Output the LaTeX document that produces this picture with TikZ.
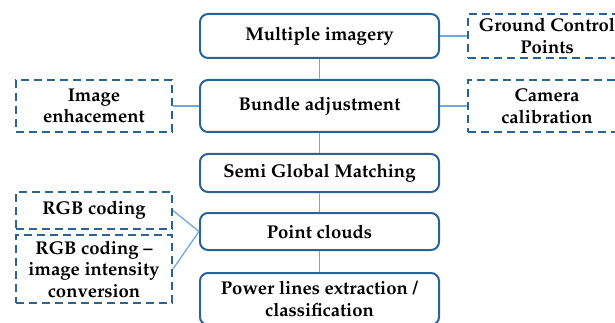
\documentclass[tikz,border=0pt]{standalone}
\usepackage[T1]{fontenc}
\renewcommand{\rmdefault}{ppl}
\usepackage{tikz}
\definecolor{boxblue}{HTML}{2A6496}
\definecolor{lineblue}{HTML}{6FA8DC}

\begin{document}
\begin{tikzpicture}[x=1pt,y=-1pt,
        stage/.style={draw=boxblue, line width=2pt, rounded corners=8pt, minimum width=239pt, align=center, font=\fontsize{18.5}{21.5}\selectfont\bfseries},
        extra/.style={draw=boxblue, line width=2pt, dash pattern=on 8pt off 5pt, minimum width=156pt, align=center, font=\fontsize{18.5}{21.5}\selectfont\bfseries},
        link/.style={draw=lineblue, line width=1.3pt}]
        \useasboundingbox (0,0) rectangle (615,323);
        \node[stage, minimum height=44pt] at (319.5,36) (mi) {Multiple imagery};
        \node[stage, minimum height=52pt] at (319.5,106) (ba) {Bundle adjustment};
        \node[stage, minimum height=38pt] at (319.5,173) (sgm) {Semi Global Matching};
        \node[stage, minimum height=37pt] at (319.5,231.5) (pc) {Point clouds};
        \node[stage, minimum height=52pt] at (319.5,299) (pl) {Power lines extraction /\\classification};
        \node[extra, minimum height=44pt, minimum width=158pt, inner sep=1pt] at (547,36) (gcp) {Ground Control\\Points};
        \node[extra, minimum height=52pt, minimum width=158pt] at (547,106) (cc) {Camera\\calibration};
        \node[extra, minimum height=52pt] at (94,106) (ie) {Image\\enhacement};
        \node[extra, minimum height=37pt] at (94,210.5) (rgb) {RGB coding};
        \node[extra, minimum height=68pt, inner sep=1pt] at (94,269) (rgbi) {RGB coding --\\image intensity\\conversion};
        \draw[link] (mi) -- (ba) -- (sgm) -- (pc) -- (pl);
        \draw[link] (mi) -- (gcp);
        \draw[link] (ba) -- (cc);
        \draw[link] (ba) -- (ie);
        \draw[link] (rgb.east) -- (pc.west);
        \draw[link] (rgbi.east) -- (pc.west);
    \end{tikzpicture}
\end{document}
